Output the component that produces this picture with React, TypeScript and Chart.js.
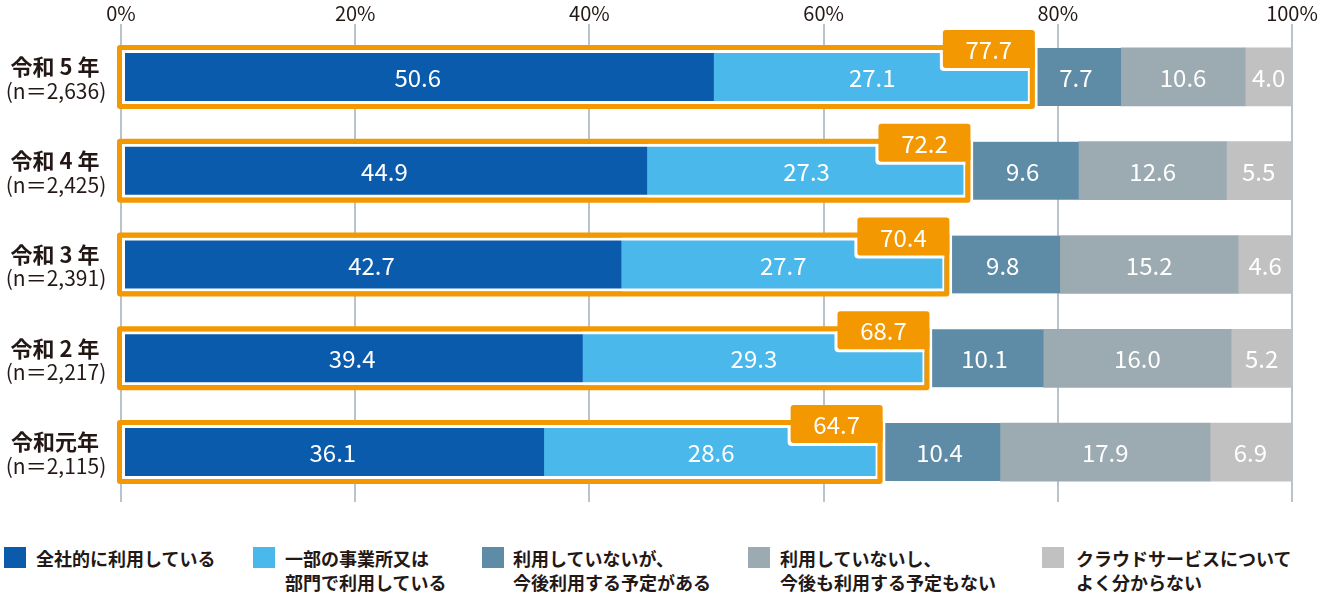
import React, { useEffect, useRef } from 'react';
import { Chart, registerables } from 'chart.js';

Chart.register(...registerables);

const FONT = '"Noto Sans CJK JP", "Noto Sans", sans-serif';

// ---- data ----
const yearLabels = ['令和 5 年', '令和 4 年', '令和 3 年', '令和 2 年', '令和元年'];
const sampleLabels = ['(n＝2,636)', '(n＝2,425)', '(n＝2,391)', '(n＝2,217)', '(n＝2,115)'];
const usedCompanyWide = [50.6, 44.9, 42.7, 39.4, 36.1];
const usedPartially = [27.1, 27.3, 27.7, 29.3, 28.6];
const notUsedButPlanned = [7.7, 9.6, 9.8, 10.1, 10.4];
const notUsedNoPlan = [10.6, 12.6, 15.2, 16.0, 17.9];
const unknown = [4.0, 5.5, 4.6, 5.2, 6.9];
const usingTotal = [77.7, 72.2, 70.4, 68.7, 64.7];
const xTickValues = [0, 20, 40, 60, 80, 100];

const seriesNames = [
  ['全社的に利用している'],
  ['一部の事業所又は', '部門で利用している'],
  ['利用していないが、', '今後利用する予定がある'],
  ['利用していないし、', '今後も利用する予定もない'],
  ['クラウドサービスについて', 'よく分からない'],
];
const seriesColors = ['#0a5bab', '#4ab8ea', '#5e8ca6', '#9caab2', '#c1c1c1'];
const ORANGE = '#f39800';
const GRID = '#b8c3cb';
const TEXT = '#231815';

const legendPos = [
  { sq: 4, tx: 36 },
  { sq: 253, tx: 285 },
  { sq: 482, tx: 513 },
  { sq: 748, tx: 780 },
  { sq: 1042, tx: 1076 },
];

const overlayPlugin = {
  id: 'overlay',
  afterDatasetsDraw(chart: any) {
    const ctx = chart.ctx as CanvasRenderingContext2D;
    const xs = chart.scales.x;
    const meta0 = chart.getDatasetMeta(0);
    ctx.save();
    usingTotal.forEach((total, i) => {
      const el = meta0.data[i];
      if (!el) return;
      const c = el.y;
      const x0 = xs.getPixelForValue(0);
      const x1 = xs.getPixelForValue(total);
      // white gap between orange frame and bars
      ctx.fillStyle = '#ffffff';
      ctx.beginPath();
      ctx.rect(x0 + 1, c - 27, x1 - x0 - 2, 54);
      ctx.rect(x0 + 4, c - 24, x1 - x0 - 7, 48);
      ctx.fill('evenodd');
      // tag geometry
      const tagR = x1 + 4;
      const tagL = tagR - 92;
      const tagT = c - 47;
      const tagB = c - 9;
      // white patch around tag inside frame
      ctx.fillStyle = '#ffffff';
      ctx.beginPath();
      (ctx as any).roundRect(tagL - 3, c - 27, tagR - tagL + 3, tagB + 3 - (c - 27), [0, 0, 0, 4]);
      ctx.fill();
      // orange frame
      ctx.fillStyle = ORANGE;
      ctx.beginPath();
      (ctx as any).roundRect(x0 - 4, c - 32, x1 - x0 + 8, 64, 3);
      ctx.rect(x0 + 1, c - 27, x1 - x0 - 2, 54);
      ctx.fill('evenodd');
      // tag
      ctx.beginPath();
      (ctx as any).roundRect(tagL, tagT, tagR - tagL, tagB - tagT, 3);
      ctx.fill();
      ctx.fillStyle = '#ffffff';
      ctx.font = `24px ${FONT}`;
      ctx.textAlign = 'center';
      ctx.textBaseline = 'middle';
      ctx.fillText(total.toFixed(1), (tagL + tagR) / 2, (tagT + tagB) / 2 + 1);
    });
    // segment value labels
    chart.data.datasets.forEach((ds: any, di: number) => {
      const meta = chart.getDatasetMeta(di);
      meta.data.forEach((bar: any, i: number) => {
        const v = ds.data[i];
        const cx = (bar.x + bar.base) / 2;
        ctx.fillStyle = '#ffffff';
        ctx.font = `24px ${FONT}`;
        ctx.textAlign = 'center';
        ctx.textBaseline = 'middle';
        ctx.fillText(Number(v).toFixed(1), cx, bar.y + 1);
      });
    });
    ctx.restore();
  },
  afterDraw(chart: any) {
    const ctx = chart.ctx as CanvasRenderingContext2D;
    const ys = chart.scales.y;
    ctx.save();
    ctx.fillStyle = TEXT;
    ctx.textAlign = 'center';
    ctx.textBaseline = 'middle';
    yearLabels.forEach((lab, i) => {
      const c = ys.getPixelForValue(i);
      ctx.font = `bold 22px ${FONT}`;
      ctx.fillText(lab, 55, c - 10);
      ctx.font = `21px ${FONT}`;
      ctx.fillText(sampleLabels[i], 56, c + 14);
    });
    ctx.restore();
  },
};

export default function App() {
  const ref = useRef<HTMLCanvasElement>(null);
  useEffect(() => {
    if (!ref.current) return;
    const chart = new Chart(ref.current, {
      type: 'bar',
      data: {
        labels: yearLabels,
        datasets: [
          { label: seriesNames[0].join(''), data: usedCompanyWide, backgroundColor: seriesColors[0], barThickness: 54, borderWidth: 0 },
          { label: seriesNames[1].join(''), data: usedPartially, backgroundColor: seriesColors[1], barThickness: 54, borderWidth: 0 },
          {
            label: seriesNames[2].join(''), data: notUsedButPlanned, backgroundColor: seriesColors[2], barThickness: 58,
            borderWidth: { left: 7, right: 0, top: 0, bottom: 0 }, borderColor: '#ffffff', borderSkipped: false,
          },
          { label: seriesNames[3].join(''), data: notUsedNoPlan, backgroundColor: seriesColors[3], barThickness: 58, borderWidth: 0 },
          { label: seriesNames[4].join(''), data: unknown, backgroundColor: seriesColors[4], barThickness: 58, borderWidth: 0 },
        ] as any,
      },
      options: {
        indexAxis: 'y',
        animation: false,
        responsive: false,
        layout: { padding: { top: 2, left: 121, right: 32, bottom: 3 } },
        plugins: { legend: { display: false }, tooltip: { enabled: false } },
        scales: {
          x: {
            type: 'linear',
            position: 'top',
            stacked: true,
            min: 0,
            max: 100,
            afterBuildTicks: (axis: any) => { axis.ticks = xTickValues.map((v) => ({ value: v })); },
            ticks: {
              callback: (v: any) => `${v}%`,
              padding: 1,
              color: TEXT,
              font: { family: FONT, size: 20, lineHeight: 1.0 },
              maxRotation: 0,
            },
            grid: { color: GRID, lineWidth: 2, tickLength: 6, drawTicks: true },
            border: { display: false },
          },
          x2: {
            type: 'linear',
            axis: 'x',
            position: 'bottom',
            min: 0,
            max: 100,
            afterBuildTicks: (axis: any) => { axis.ticks = xTickValues.map((v) => ({ value: v })); },
            ticks: { display: false },
            grid: { color: GRID, lineWidth: 2, tickLength: 3, drawOnChartArea: false },
            border: { display: false },
          },
          y: { stacked: true, display: false },
        } as any,
      },
      plugins: [overlayPlugin],
    });
    return () => chart.destroy();
  }, []);

  return (
    <div style={{ position: 'absolute', left: 0, top: 0, width: 1324, height: 595, background: '#fff', fontFamily: FONT }}>
      <canvas ref={ref} width={1324} height={505} style={{ display: 'block', width: 1324, height: 505 }} />
      {seriesNames.map((lines, i) => (
        <div key={i}>
          <div style={{ position: 'absolute', left: legendPos[i].sq, top: 547, width: 22, height: 21, background: seriesColors[i] }} />
          <div
            style={{
              position: 'absolute', left: legendPos[i].tx, top: 546, fontSize: 18, lineHeight: '24px',
              fontWeight: 'bold', color: TEXT, whiteSpace: 'nowrap',
            }}
          >
            {lines.map((l, j) => (<div key={j}>{l}</div>))}
          </div>
        </div>
      ))}
    </div>
  );
}
